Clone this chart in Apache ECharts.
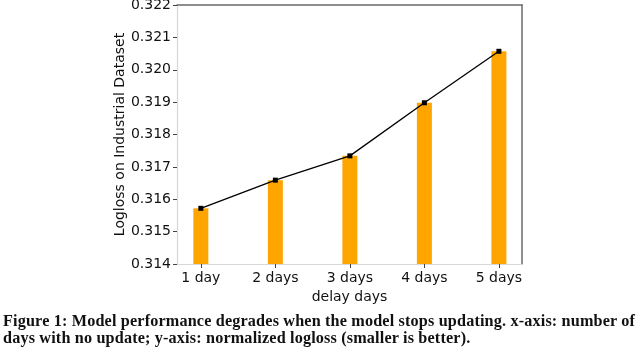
<!DOCTYPE html>
<html>
<head>
<meta charset="utf-8">
<script src="https://cdn.jsdelivr.net/npm/echarts@6/dist/echarts.min.js"></script>
<style>
  html, body { margin: 0; padding: 0; background: #fff; }
  #chart { width: 640px; height: 349px; }
  .caption {
    position: absolute; left: 3px; top: 313px;
    font-family: "Liberation Serif", serif; font-weight: bold; font-size: 16.2px;
    line-height: 17px; color: #111; white-space: nowrap; letter-spacing: 0.16px;
  }
</style>
</head>
<body>
<div id="chart"></div>
<div class="caption">Figure 1: Model performance degrades when the model stops updating. x-axis: number of<br>days with no update; y-axis: normalized logloss (smaller is better).</div>
<script>
// data
var categories = ['1 day', '2 days', '3 days', '4 days', '5 days']
var logloss = [0.31572, 0.31659, 0.31734, 0.31898, 0.32057]
var yTicks = [0.314, 0.315, 0.316, 0.317, 0.318, 0.319, 0.320, 0.321, 0.322]

var positions = categories.map(function (c, i) { return i })
var points = logloss.map(function (v, i) { return [i, v] })
var tickFont = { fontFamily: 'DejaVu Sans', fontSize: 14, color: '#111' }

var chart = echarts.init(document.getElementById('chart'), null, { renderer: 'canvas' })
chart.setOption({
  animation: false,
  grid: { left: 177, right: 118, top: 5, bottom: 85, outerBoundsMode: 'none', containLabel: false },
  xAxis: [
    {
      type: 'value', min: -0.32, max: 4.31, position: 'bottom',
      name: 'delay days', nameLocation: 'middle', nameGap: 23,
      nameTextStyle: tickFont,
      splitLine: { show: false },
      axisLine: { show: true, onZero: false, lineStyle: { color: '#d8d8d8', width: 1.2 } },
      axisTick: { show: true, customValues: positions, length: 4, lineStyle: { color: '#444' } },
      axisLabel: Object.assign({
        customValues: positions, margin: 7,
        formatter: function (v) { return categories[Math.round(v)] }
      }, tickFont)
    },
    {
      type: 'value', min: -0.32, max: 4.31, position: 'top',
      splitLine: { show: false }, axisTick: { show: false }, axisLabel: { show: false },
      axisLine: { show: true, onZero: false, lineStyle: { color: '#6a6a6a', width: 1.5 } }
    }
  ],
  yAxis: [
    {
      type: 'value', min: 0.314, max: 0.322, interval: 0.001, position: 'left',
      name: 'Logloss on Industrial Dataset', nameLocation: 'middle', nameGap: 50,
      nameMoveOverlap: false,
      nameTextStyle: tickFont,
      splitLine: { show: false },
      axisLine: { show: true, onZero: false, lineStyle: { color: '#d8d8d8', width: 1.2 } },
      axisTick: { show: true, length: 4, lineStyle: { color: '#444' } },
      axisLabel: Object.assign({
        margin: 6,
        customValues: yTicks,
        formatter: function (v) { return v.toFixed(3) }
      }, tickFont)
    },
    {
      type: 'value', min: 0.314, max: 0.322, position: 'right',
      splitLine: { show: false }, axisTick: { show: false }, axisLabel: { show: false },
      axisLine: { show: true, onZero: false, lineStyle: { color: '#6a6a6a', width: 1.5 } }
    }
  ],
  series: [
    {
      type: 'bar', data: points, barWidth: 15,
      itemStyle: { color: '#FFA500' }
    },
    {
      type: 'line', data: points,
      symbol: 'rect', symbolSize: 5,
      lineStyle: { color: '#000', width: 1.3 },
      itemStyle: { color: '#000' }
    }
  ]
})
</script>
</body>
</html>
